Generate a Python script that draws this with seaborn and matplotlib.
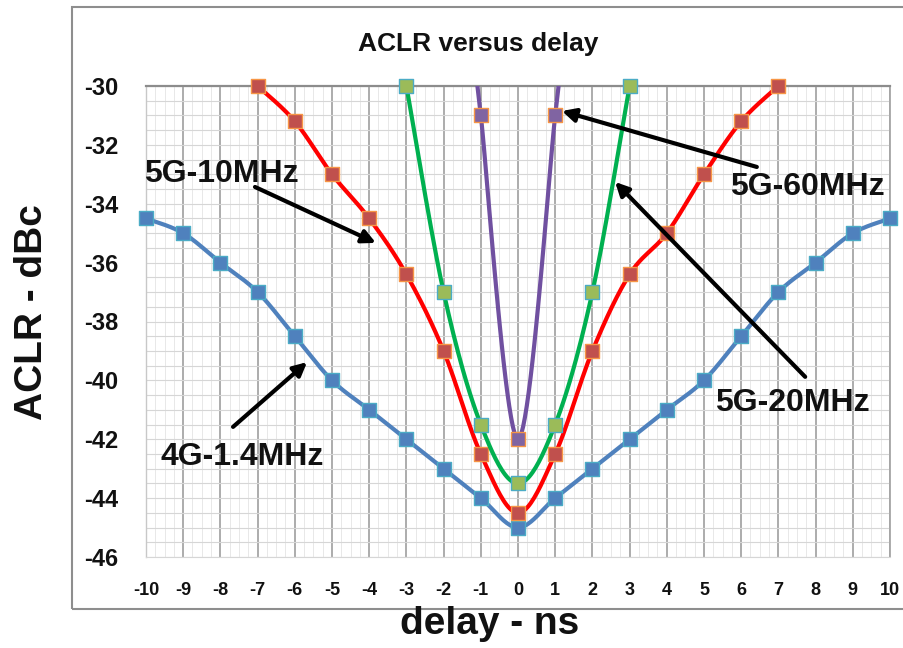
import numpy as np
import pandas as pd
import matplotlib
matplotlib.use("Agg")
import matplotlib.pyplot as plt
import seaborn as sns
from matplotlib.patches import Rectangle
from matplotlib.ticker import MultipleLocator

# ---------------- data ----------------
delay_4g = list(range(-10, 11))
aclr_4g = [-34.5, -35, -36, -37, -38.5, -40, -41, -42, -43, -44, -45,
           -44, -43, -42, -41, -40, -38.5, -37, -36, -35, -34.5]
delay_10 = list(range(-7, 8))
aclr_10 = [-30, -31.2, -33, -34.5, -36.4, -39, -42.5, -44.5,
           -42.5, -39, -36.4, -35, -33, -31.2, -30]
delay_20 = list(range(-3, 4))
aclr_20 = [-30, -37, -41.5, -43.5, -41.5, -37, -30]
delay_60 = [-1, 0, 1]
aclr_60 = [-31, -42, -31]

series_names = ["4G-1.4MHz", "5G-10MHz", "5G-20MHz", "5G-60MHz"]
x_ticks = list(range(-10, 11))
y_ticks = list(range(-46, -29, 2))
title = "ACLR versus delay"
xlabel = "delay - ns"
ylabel = "ACLR - dBc"

line_colors = {"4G-1.4MHz": "#4F81BD", "5G-10MHz": "#FF0000",
               "5G-20MHz": "#00B050", "5G-60MHz": "#7050A0"}
marker_face = {"4G-1.4MHz": "#4F81BD", "5G-10MHz": "#C0504D",
               "5G-20MHz": "#9BBB59", "5G-60MHz": "#8064A2"}
marker_edge = {"4G-1.4MHz": "#4BACC6", "5G-10MHz": "#F79646",
               "5G-20MHz": "#4BACC6", "5G-60MHz": "#F79646"}


def excel_smooth(xs, ys, n=24, extend=0.0):
    P = np.column_stack([xs, ys]).astype(float)
    m = len(P)
    segs = []
    t = np.linspace(0, 1, n)[:, None]
    for i in range(m - 1):
        p0 = P[i - 1] if i > 0 else P[i]
        p1, p2 = P[i], P[i + 1]
        p3 = P[i + 2] if i + 2 < m else P[i + 1]
        c1 = p1 + (p2 - p0) / 6.0
        c2 = p2 - (p3 - p1) / 6.0
        seg = ((1 - t) ** 3) * p1 + 3 * ((1 - t) ** 2) * t * c1 \
            + 3 * (1 - t) * (t ** 2) * c2 + (t ** 3) * p2
        segs.append(seg if i == 0 else seg[1:])
    curve = np.vstack(segs)
    if extend:
        start = P[0] - extend * (P[1] - P[0])
        end = P[-1] + extend * (P[-1] - P[-2])
        curve = np.vstack([start, curve, end])
    return curve


raw = {
    "4G-1.4MHz": (delay_4g, aclr_4g, 0.0),
    "5G-10MHz": (delay_10, aclr_10, 0.0),
    "5G-20MHz": (delay_20, aclr_20, 0.0),
    "5G-60MHz": (delay_60, aclr_60, 0.3),
}

curve_frames, point_frames = [], []
for name in series_names:
    xs, ys, ext = raw[name]
    c = excel_smooth(xs, ys, extend=ext)
    curve_frames.append(pd.DataFrame({"delay": c[:, 0], "aclr": c[:, 1], "series": name}))
    point_frames.append(pd.DataFrame({"delay": xs, "aclr": ys, "series": name}))
curves = pd.concat(curve_frames, ignore_index=True)
points = pd.concat(point_frames, ignore_index=True)

# ---------------- figure ----------------
sns.set_theme(style="white")
plt.rcParams["font.family"] = ["Liberation Sans", "DejaVu Sans"]

fig = plt.figure(figsize=(9.04, 6.48), dpi=100)
L, R, T, B = 146 / 904, 890 / 904, 1 - 86 / 648, 1 - 557 / 648
ax = fig.add_axes([L, B, R - L, T - B])

# chart-area frame
fig.patches.append(Rectangle((72 / 904, 1 - 609 / 648), 850 / 904, 602 / 648,
                             transform=fig.transFigure, fill=False,
                             edgecolor="#8E8E8E", linewidth=1.5, zorder=0))

for k, name in enumerate(series_names):
    sub = curves[curves["series"] == name]
    sns.lineplot(data=sub, x="delay", y="aclr", color=line_colors[name],
                 sort=False, estimator=None, linewidth=3.0, ax=ax,
                 legend=False, zorder=3 + 2 * k)
    pts = points[points["series"] == name]
    sns.scatterplot(data=pts, x="delay", y="aclr", marker="s", s=95,
                    color=marker_face[name], edgecolor=marker_edge[name],
                    linewidth=1.0, ax=ax, legend=False, zorder=4 + 2 * k,
                    clip_on=False)

ax.set_xlim(-10, 10)
ax.set_ylim(-46, -30)
ax.set_xticks(x_ticks)
ax.set_xticklabels([str(v) for v in x_ticks])
ax.set_yticks(y_ticks)
ax.set_yticklabels([str(v) for v in y_ticks])
ax.xaxis.set_minor_locator(MultipleLocator(0.25))
ax.yaxis.set_minor_locator(MultipleLocator(0.5))

ax.grid(which="major", axis="x", color="#A6A6A6", linewidth=1.3, zorder=1)
ax.grid(which="minor", axis="x", color="#E4E4E4", linewidth=0.6, zorder=0)
ax.grid(which="both", axis="y", color="#D6D6D6", linewidth=0.8, zorder=0)
ax.set_axisbelow(True)

ax.tick_params(axis="both", which="both", length=0)
ax.tick_params(axis="y", pad=20, labelsize=17)
ax.tick_params(axis="x", pad=18, labelsize=13)
for lab in ax.get_xticklabels() + ax.get_yticklabels():
    lab.set_fontweight("bold")
    lab.set_color("#111111")

for side, col, lw in [("top", "#8C8C8C", 1.6), ("left", "#C8C8C8", 1.0),
                      ("right", "#A6A6A6", 1.3), ("bottom", "#D6D6D6", 0.8)]:
    ax.spines[side].set_color(col)
    ax.spines[side].set_linewidth(lw)
    ax.spines[side].set_visible(True)

ax.set_xlabel("")
ax.set_ylabel("")

fig.text(478 / 904, 1 - 44 / 648, title, ha="center", va="center",
         fontsize=19, fontweight="bold",
         family=["Liberation Sans Narrow", "Liberation Sans", "DejaVu Sans"],
         color="#111111")
fig.text(32 / 904, 1 - 312 / 648, ylabel, rotation=90, ha="center", va="center",
         fontsize=28, fontweight="bold", color="#111111")
fig.text(490 / 904, 1 - 624 / 648, xlabel, ha="center", va="center",
         fontsize=28, fontweight="bold", color="#111111")

# annotations: (label, text pos, arrow tail, arrow head) in data units
annots = [
    ("5G-10MHz", (-7.98, -32.99), (-7.07, -33.43), (-3.82, -35.33)),
    ("5G-60MHz", (7.77, -33.43), (6.42, -32.75), (1.18, -30.85)),
    ("5G-20MHz", (7.37, -40.77), (7.72, -39.88), (2.61, -33.26)),
    ("4G-1.4MHz", (-7.42, -42.60), (-7.66, -41.58), (-5.67, -39.38)),
]
for text, tpos, tail, head in annots:
    ax.text(tpos[0], tpos[1], text, ha="center", va="center", fontsize=23,
            fontweight="bold", color="#111111", zorder=20)
    ax.annotate("", xy=head, xytext=tail,
                arrowprops=dict(arrowstyle="-|>", color="black", lw=3,
                                mutation_scale=20, shrinkA=0, shrinkB=0),
                zorder=20)

fig.savefig("out.png", dpi=100)
